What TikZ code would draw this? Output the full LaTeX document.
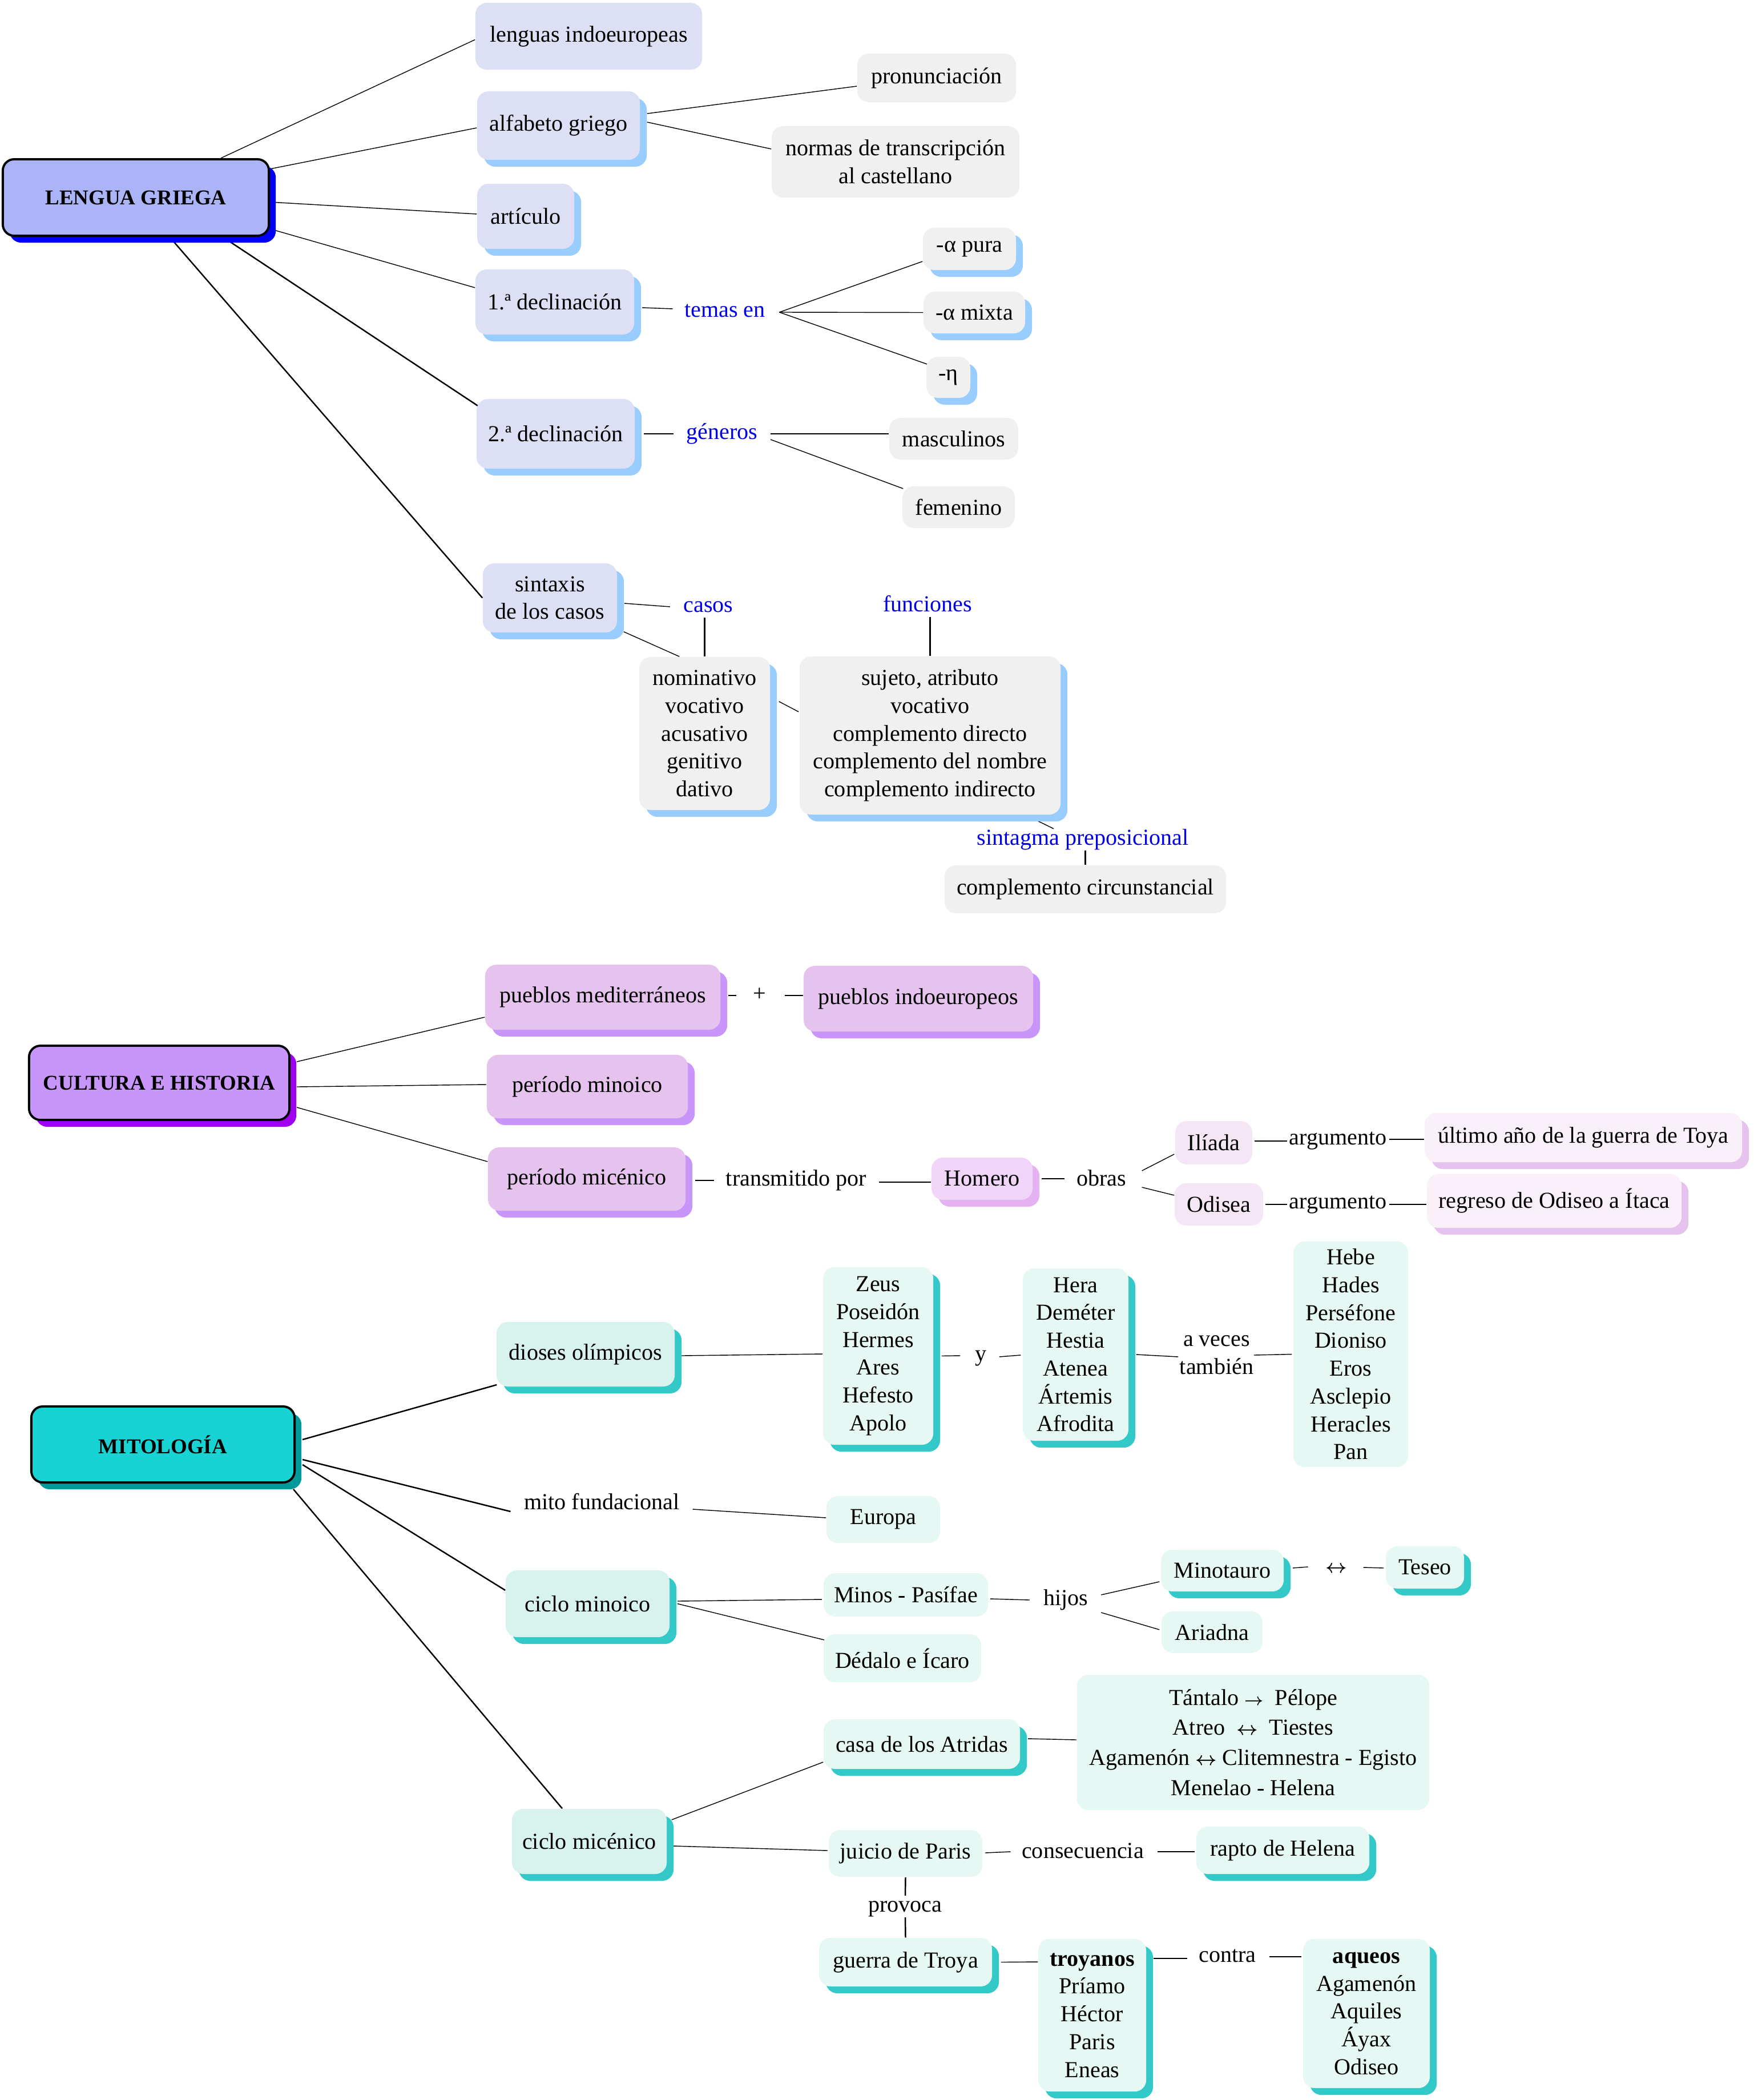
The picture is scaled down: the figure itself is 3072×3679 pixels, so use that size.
\documentclass[tikz,border=0pt]{standalone}
\usepackage{fontspec}
\setmainfont{Liberation Serif}
\usetikzlibrary{calc,shadows,backgrounds}
\definecolor{lgFill}{RGB}{170,180,246}
\definecolor{lgSh}{RGB}{0,0,250}
\definecolor{lgC}{RGB}{221,223,245}
\definecolor{lgCSh}{RGB}{153,204,255}
\definecolor{grayF}{RGB}{240,240,240}
\definecolor{chFill}{RGB}{200,150,250}
\definecolor{chSh}{RGB}{160,0,240}
\definecolor{chC}{RGB}{230,195,238}
\definecolor{chCSh}{RGB}{200,150,250}
\definecolor{hoF}{RGB}{240,213,248}
\definecolor{hoSh}{RGB}{228,178,240}
\definecolor{ilF}{RGB}{245,230,245}
\definecolor{uaF}{RGB}{249,240,249}
\definecolor{miF}{RGB}{24,211,211}
\definecolor{miSh}{RGB}{0,153,153}
\definecolor{miC}{RGB}{216,242,238}
\definecolor{miCSh}{RGB}{51,201,201}
\definecolor{miG}{RGB}{230,248,244}
\definecolor{lblue}{RGB}{0,0,230}
\newcommand{\myarr}{\scalebox{0.75}{\boldmath$\rightarrow$}}
\newcommand{\mylra}{\scalebox{0.85}{\boldmath$\leftrightarrow$}}
\tikzset{
  box/.style={rounded corners=0.2cm, inner sep=0pt, align=center},
  shd/.style={general shadow={shadow xshift=0.12cm, shadow yshift=-0.12cm, fill=#1}},
  lbl/.style={inner sep=0pt, text height=8pt, text depth=2.5pt},
  blbl/.style={lbl, text=lblue},
  mainbox/.style={box, draw=black, line width=1.1pt, font=\fontsize{10.5pt}{12pt}\selectfont\bfseries},
  conn/.style={line width=1pt},
  thin/.style={line width=0.7pt}
}
\begin{document}
\begin{tikzpicture}[x=0.01cm, y=-0.01cm, font=\fontsize{11.4pt}{13.85pt}\selectfont]
\useasboundingbox (0,0) rectangle (3072,3679);

% ---------------- LENGUA GRIEGA ----------------
\node[mainbox, fill=lgFill, shd=lgSh, minimum width=4.66cm, minimum height=1.34cm] (lg) at (238,346) {LENGUA GRIEGA};
\node[box, fill=lgC, minimum width=3.97cm, minimum height=1.17cm] (li) at (1031.5,63.5) {lenguas indoeuropeas};
\node[box, fill=lgC, shd=lgCSh, minimum width=2.85cm, minimum height=1.20cm] (ag) at (978.5,220) {alfabeto griego};
\node[box, fill=lgC, shd=lgCSh, minimum width=1.70cm, minimum height=1.14cm] (ar) at (921,379) {artículo};
\node[box, fill=lgC, shd=lgCSh, minimum width=2.78cm, minimum height=1.14cm] (d1) at (972,529) {1.ª declinación};
\node[box, fill=lgC, shd=lgCSh, minimum width=2.77cm, minimum height=1.22cm] (d2) at (973.5,760) {2.ª declinación};
\node[box, fill=lgC, shd=lgCSh, minimum width=2.35cm, minimum height=1.21cm] (sx) at (963.5,1047.5) {sintaxis\\de los casos};
\node[box, fill=grayF, minimum width=2.78cm, minimum height=0.85cm] (pr) at (1641,136.5) {pronunciación};
\node[box, fill=grayF, minimum width=4.34cm, minimum height=1.25cm] (nt) at (1569,283.5) {normas de transcripción\\al castellano};
\node[blbl] (te) at (1270,546) {temas en};
\node[box, fill=grayF, shd=lgCSh, minimum width=1.63cm, minimum height=0.74cm] (ap) at (1698.5,436) {-α pura};
\node[box, fill=grayF, shd=lgCSh, minimum width=1.78cm, minimum height=0.73cm] (am) at (1707,547.5) {-α mixta};
\node[box, fill=grayF, shd=lgCSh, minimum width=0.77cm, minimum height=0.72cm] (et) at (1661.5,661) {-η};
\node[blbl] (ge) at (1265,760) {géneros};
\node[box, fill=grayF, minimum width=2.26cm, minimum height=0.73cm] (ma) at (1671,768.5) {masculinos};
\node[box, fill=grayF, minimum width=1.97cm, minimum height=0.73cm] (fe) at (1679.5,888.5) {femenino};
\node[blbl] (cas) at (1241,1063) {casos};
\node[box, fill=grayF, shd=lgCSh, minimum width=2.29cm, minimum height=2.68cm] (nom) at (1234.5,1285) {nominativo\\vocativo\\acusativo\\genitivo\\dativo};
\node[blbl] (fl) at (1625,1062) {funciones};
\node[box, fill=grayF, shd=lgCSh, minimum width=4.57cm, minimum height=2.77cm] (fun) at (1629.5,1288.5) {sujeto, atributo\\vocativo\\complemento directo\\complemento del nombre\\complemento indirecto};
\node[blbl] (sp) at (1897,1471) {sintagma preposicional};
\node[box, fill=grayF, minimum width=4.93cm, minimum height=0.84cm] (cc) at (1901.5,1558) {complemento circunstancial};

% ---------------- CULTURA E HISTORIA ----------------
\node[mainbox, fill=chFill, shd=chSh, minimum width=4.56cm, minimum height=1.30cm] (ch) at (279,1897) {CULTURA E HISTORIA};
\node[box, fill=chC, shd=chCSh, minimum width=4.12cm, minimum height=1.14cm] (pm) at (1056,1747) {pueblos mediterráneos};
\node[box, fill=chC, shd=chCSh, minimum width=3.52cm, minimum height=1.11cm] (pmi) at (1029,1903.5) {período minoico};
\node[box, fill=chC, shd=chCSh, minimum width=3.46cm, minimum height=1.11cm] (pmc) at (1028,2065.5) {período micénico};
\node[lbl] (pl) at (1331,1744) {+};
\node[box, fill=chC, shd=chCSh, minimum width=4.02cm, minimum height=1.15cm] (pi) at (1609,1749.5) {pueblos indoeuropeos};
\node[lbl] (tp) at (1395,2068) {transmitido por};
\node[box, fill=hoF, shd=hoSh, minimum width=1.77cm, minimum height=0.74cm] (ho) at (1720.5,2065) {Homero};
\node[lbl] (ob) at (1929.5,2068) {obras};
\node[box, fill=ilF, minimum width=1.35cm, minimum height=0.76cm] (il) at (2126.5,2002) {Ilíada};
\node[box, fill=ilF, minimum width=1.55cm, minimum height=0.74cm] (od) at (2135.5,2110) {Odisea};
\node[lbl] (a1) at (2344,1996) {argumento};
\node[lbl] (a2) at (2344,2108) {argumento};
\node[box, fill=uaF, shd=chC, minimum width=5.56cm, minimum height=0.86cm] (ua) at (2774,1993) {último año de la guerra de Toya};
\node[box, fill=uaF, shd=chC, minimum width=4.46cm, minimum height=0.94cm] (rg) at (2723,2104) {regreso de Odiseo a Ítaca};

% ---------------- MITOLOGIA ----------------
\node[mainbox, fill=miF, shd=miSh, minimum width=4.61cm, minimum height=1.33cm] (mi) at (285.5,2530.5) {MITOLOGÍA};
\node[box, fill=miC, shd=miCSh, minimum width=3.12cm, minimum height=1.13cm] (do) at (1026,2372.5) {dioses olímpicos};
\node[lbl] (mf) at (1054.5,2635) {mito fundacional};
\node[box, fill=miC, shd=miCSh, minimum width=2.87cm, minimum height=1.17cm] (cm) at (1029.5,2809.5) {ciclo minoico};
\node[box, fill=miC, shd=miCSh, minimum width=2.71cm, minimum height=1.14cm] (cmc) at (1032.5,3226) {ciclo micénico};
\node[box, fill=miG, shd=miCSh, minimum width=1.93cm, minimum height=3.11cm] (ze) at (1538.5,2375.5) {Zeus\\Poseidón\\Hermes\\Ares\\Hefesto\\Apolo};
\node[lbl] (yy) at (1718,2375) {y};
\node[box, fill=miG, shd=miCSh, minimum width=1.85cm, minimum height=3.02cm] (he) at (1884.5,2373) {Hera\\Deméter\\Hestia\\Atenea\\Ártemis\\Afrodita};
\node[inner sep=0pt, align=center] (av) at (2131.5,2374) {a veces\\también};
\node[box, fill=miG, minimum width=2.01cm, minimum height=3.95cm] (hb) at (2366.5,2372.5) {Hebe\\Hades\\Perséfone\\Dioniso\\Eros\\Asclepio\\Heracles\\Pan};
\node[box, fill=miG, minimum width=1.99cm, minimum height=0.82cm] (eu) at (1547.5,2662) {Europa};
\node[box, fill=miG, minimum width=2.88cm, minimum height=0.76cm] (mp) at (1587,2794) {Minos - Pasífae};
\node[box, fill=miG, minimum width=2.76cm, minimum height=0.84cm] (de) at (1581,2905) {Dédalo e Ícaro};
\node[lbl] (hi) at (1867.5,2803) {hijos};
\node[box, fill=miG, shd=miCSh, minimum width=2.15cm, minimum height=0.73cm] (mt) at (2141.5,2751.5) {Minotauro};
\node[box, fill=miG, minimum width=1.77cm, minimum height=0.73cm] (ad) at (2123.5,2859.5) {Ariadna};
\node[lbl] (lr) at (2341,2746) {\mylra};
\node[box, fill=miG, shd=miCSh, minimum width=1.37cm, minimum height=0.74cm] (ts) at (2496.5,2746) {Teseo};
\node[box, fill=miG, shd=miCSh, minimum width=3.44cm, minimum height=0.87cm] (cs) at (1615,3055.5) {casa de los Atridas};
\node[box, fill=miG, minimum width=6.17cm, minimum height=2.37cm, font=\fontsize{11.4pt}{15pt}\selectfont] (ta) at (2195.5,3052.5) {Tántalo \myarr\ \ Pélope\\Atreo \ \mylra\ \ Tiestes\\Agamenón \mylra\ Clitemnestra - Egisto\\Menelao - Helena};
\node[box, fill=miG, minimum width=2.69cm, minimum height=0.82cm] (jp) at (1586.5,3247) {juicio de Paris};
\node[lbl] (co) at (1897,3246) {consecuencia};
\node[box, fill=miG, shd=miCSh, minimum width=3.03cm, minimum height=0.83cm] (rh) at (2247.5,3241.5) {rapto de Helena};
\node[lbl] (pv) at (1586,3340) {provoca};
\node[box, fill=miG, shd=miCSh, minimum width=3.03cm, minimum height=0.85cm] (gt) at (1586.5,3437.5) {guerra de Troya};
\node[box, fill=miG, shd=miCSh, minimum width=1.89cm, minimum height=2.67cm] (tr) at (1913.5,3530.5) {\textbf{troyanos}\\Príamo\\Héctor\\Paris\\Eneas};
\node[lbl] (ct) at (2150.5,3428) {contra};
\node[box, fill=miG, shd=miCSh, minimum width=2.22cm, minimum height=2.61cm] (aq) at (2394,3527.5) {\textbf{aqueos}\\Agamenón\\Aquiles\\Áyax\\Odiseo};

% ---------------- connectors ----------------
\begin{scope}[on background layer, conn]
% lengua griega
\draw ($(lg.north)+(149,0)$) -- ($(li.west)+(0,6)$);
\draw ($(lg.east)+(0,-50)$) -- ($(ag.west)+(0,4)$);
\draw ($(lg.east)+(0,8)$) -- ($(ar.west)+(0,-4)$);
\draw ($(lg.east)+(0,55)$) -- ($(d1.west)+(0,-25)$);
\draw[thin] ($(lg.south)+(152,0)$) -- ($(d2.west)+(3,-49)$);
\draw[thin] ($(lg.south)+(59,0)$) -- (sx.west);
\draw ($(ag.east)+(12,-21)$) -- ($(pr.west)+(0,14.5)$);
\draw ($(ag.east)+(12,-6)$) -- ($(nt.west)+(0,-22.5)$);
\draw ($(d1.east)+(13,10)$) -- ($(te.west)+(-20,-5)$);
\coordinate (tj) at ($(te.east)+(24,1)$);
\draw (tj) -- ($(ap.west)+(0,22)$);
\draw (tj) -- (am.west);
\draw (tj) -- ($(et.west)+(2,-23)$);
\draw ($(d2.east)+(15,0)$) -- ($(ge.west)+(-22,0)$);
\draw ($(ge.east)+(22,0)$) -- ($(ma.west)+(0,-8.5)$);
\draw ($(ge.east)+(22,10)$) -- ($(fe.west)+(2,-32.5)$);
\draw ($(sx.east)+(12,9.5)$) -- ($(cas.west)+(-23,0)$);
\draw[thin] (nom.north |- cas.south) -- (nom.north);
\draw ($(sx.south east)+(11,-2)$) -- ($(nom.north west)+(71,0)$);
\draw ($(nom.east)+(15,-56)$) -- ($(fun.west)+(-1,-41.5)$);
\draw[thin] (fun.north |- fl.south) -- (fun.north);
\draw ($(fun.south east)+(-62,0)$) -- ($(sp.north)+(-51,0)$);
\draw[thin] (cc.north |- sp.south) -- (cc.north);
% cultura e historia
\draw ($(ch.east)+(11,-37)$) -- ($(pm.west)+(0,35)$);
\draw ($(ch.east)+(11,7)$) -- ($(pmi.west)+(0,-3.5)$);
\draw ($(ch.east)+(11,43)$) -- ($(pmc.west)+(0,-30.5)$);
\draw ($(pm.east)+(13,-3)$) -- ($(pl.west)+(-29,0)$);
\draw ($(pl.east)+(32,0)$) -- ($(pi.west)+(0,-5.5)$);
\draw ($(pmc.east)+(16,2.5)$) -- ($(tp.west)+(-20,0)$);
\draw ($(tp.east)+(21,3)$) -- ($(ho.west)+(0,6)$);
\draw ($(ho.east)+(15,0)$) -- ($(ob.west)+(-20,-3)$);
\draw ($(ob.east)+(27,-17)$) -- ($(il.west)+(-1,20)$);
\draw ($(ob.east)+(27,12)$) -- ($(od.west)+(0,-16)$);
\draw ($(il.east)+(3,-3)$) -- ($(a1.west)+(-3,3)$);
\draw ($(a1.east)+(4,0)$) -- ($(ua.west)+(0,3)$);
\draw ($(od.east)+(3,0)$) -- ($(a2.west)+(-3,2)$);
\draw ($(a2.east)+(4,2)$) -- ($(rg.west)+(0,6)$);
% mitologia
\draw[thin] ($(mi.east)+(12,-8.5)$) -- ($(do.west)+(1,53.5)$);
\draw[thin] ($(mi.east)+(12,26.5)$) -- ($(mf.west)+(-23,13)$);
\draw ($(mf.east)+(22,9)$) -- ($(eu.west)+(0,-3)$);
\draw[thin] ($(mi.east)+(12,35.5)$) -- ($(cm.west)+(0,-23.5)$);
\draw[thin] ($(mi.south)+(228.5,10)$) -- ($(cmc.north)+(-47.5,0)$);
\draw ($(do.east)+(11,2.5)$) -- ($(ze.west)+(0,-3.5)$);
\draw ($(ze.east)+(14,0)$) -- ($(yy.west)+(-25,0)$);
\draw ($(yy.east)+(22,2)$) -- ($(he.west)+(-3,1)$);
\draw ($(he.east)+(13,0)$) -- ($(av.west)+(-2,3)$);
\draw (av.east) -- ($(hb.west)+(-2,0)$);
\draw ($(cm.east)+(13,-4.5)$) -- ($(mp.west)+(-2,8)$);
\draw ($(cm.east)+(13,0)$) -- ($(de.west)+(2,-32)$);
\draw ($(mp.east)+(3,7)$) -- ($(hi.west)+(-24,0)$);
\draw ($(hi.east)+(22,-9)$) -- ($(mt.west)+(-2,19.5)$);
\draw ($(hi.east)+(22,22)$) -- ($(ad.west)+(-3,-4.5)$);
\draw ($(mt.east)+(15,-4.5)$) -- ($(lr.west)+(-30,-1)$);
\draw ($(lr.east)+(28,0)$) -- ($(ts.west)+(-3,1)$);
\draw ($(cmc.east)+(8,-38)$) -- ($(cs.west)+(0,31.5)$);
\draw ($(cs.east)+(13,-9.5)$) -- ($(ta.west)+(0,-4.5)$);
\draw ($(cmc.east)+(11,8)$) -- ($(jp.west)+(-1,-5)$);
\draw ($(jp.east)+(4,-1)$) -- ($(co.west)+(-19,-2)$);
\draw ($(co.east)+(23,-2)$) -- ($(rh.west)+(-2,2.5)$);
\draw[thin] (jp.south) -- (pv.north);
\draw[thin] (pv.south) -- (gt.north);
\draw ($(gt.east)+(15,0)$) -- ($(tr.west)+(0,-93.5)$);
\draw ($(tr.east)+(12,-99.5)$) -- ($(ct.west)+(-20,3)$);
\draw ($(ct.east)+(23,0)$) -- ($(aq.west)+(-2,-99.5)$);
\end{scope}
\end{tikzpicture}
\end{document}
